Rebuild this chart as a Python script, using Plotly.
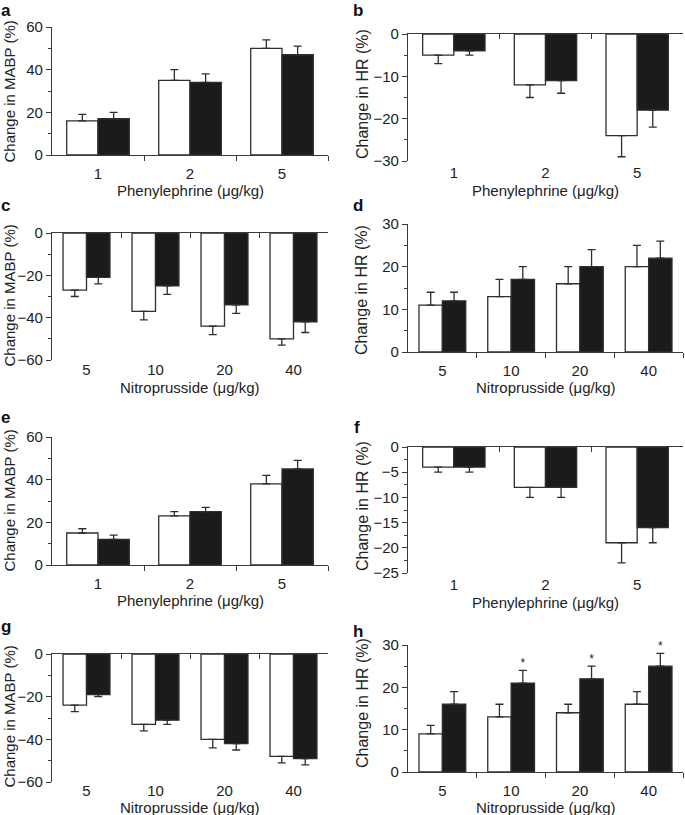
import plotly.graph_objects as go

W, H = 685, 815

# ---------------- data ----------------
phen_doses = ["1", "2", "5"]
nitro_doses = ["5", "10", "20", "40"]
phen_title = "Phenylephrine (μg/kg)"
nitro_title = "Nitroprusside (μg/kg)"
mabp_title = "Change in MABP (%)"
hr_title = "Change in HR (%)"

a_white = [16, 35, 50]; a_white_err = [3, 5, 4]
a_black = [17, 34, 47]; a_black_err = [3, 4, 4]
b_white = [-5, -12, -24]; b_white_err = [2, 3, 5]
b_black = [-4, -11, -18]; b_black_err = [1, 3, 4]
c_white = [-27, -37, -44, -50]; c_white_err = [3, 4, 4, 3]
c_black = [-21, -25, -34, -42]; c_black_err = [3, 4, 4, 5]
d_white = [11, 13, 16, 20]; d_white_err = [3, 4, 4, 5]
d_black = [12, 17, 20, 22]; d_black_err = [2, 3, 4, 4]
e_white = [15, 23, 38]; e_white_err = [2, 2, 4]
e_black = [12, 25, 45]; e_black_err = [2, 2, 4]
f_white = [-4, -8, -19]; f_white_err = [1, 2, 4]
f_black = [-4, -8, -16]; f_black_err = [1, 2, 3]
g_white = [-24, -33, -40, -48]; g_white_err = [3, 3, 4, 3]
g_black = [-19, -31, -42, -49]; g_black_err = [1, 2, 3, 3]
h_white = [9, 13, 14, 16]; h_white_err = [2, 3, 2, 3]
h_black = [16, 21, 22, 25]; h_black_err = [3, 3, 3, 3]
h_signif = ["", "*", "*", "*"]

# ---------------- style / layout ----------------
EDGE = "#2e2e2e"
AXC = "#3a3a3a"
FONT = "Liberation Sans, Arial, Helvetica, sans-serif"
BAR_W = 0.34

# lab: (ticklen of invisible major ticks, ticklabelstandoff) to place category labels
panels = [
    dict(letter="a", w=a_white, we=a_white_err, b=a_black, be=a_black_err, cats=phen_doses,
         xt=phen_title, yt=mabp_title, ytf=15, yr=[0, 60], dt=20, box=(52, 328, 27, 155),
         lab=(5, 0), xt_y=190.5, yt_pos=(8.5, 92), let_pos=(5.5, 10)),
    dict(letter="b", w=b_white, we=b_white_err, b=b_black, be=b_black_err, cats=phen_doses,
         xt=phen_title, yt=hr_title, ytf=16, yr=[-30, 0], dt=10, box=(408, 683, 34, 161),
         lab=(0, -2), xt_y=190.5, yt_pos=(362, 94), let_pos=(358, 10)),
    dict(letter="c", w=c_white, we=c_white_err, b=c_black, be=c_black_err, cats=nitro_doses,
         xt=nitro_title, yt=mabp_title, ytf=15, yr=[-60, 0], dt=20, box=(52, 328, 233, 360),
         lab=(0, -4), xt_y=387.5, yt_pos=(8.5, 296), let_pos=(5.5, 205.5)),
    dict(letter="d", w=d_white, we=d_white_err, b=d_black, be=d_black_err, cats=nitro_doses,
         xt=nitro_title, yt=hr_title, ytf=16, yr=[0, 30], dt=10, box=(408, 683, 224, 352),
         lab=(5, 0), xt_y=387.5, yt_pos=(362, 290), let_pos=(358, 205)),
    dict(letter="e", w=e_white, we=e_white_err, b=e_black, be=e_black_err, cats=phen_doses,
         xt=phen_title, yt=mabp_title, ytf=15, yr=[0, 60], dt=20, box=(52, 328, 437, 565),
         lab=(5, 0), xt_y=600.5, yt_pos=(8.5, 501), let_pos=(5.5, 417.5)),
    dict(letter="f", w=f_white, we=f_white_err, b=f_black, be=f_black_err, cats=phen_doses,
         xt=phen_title, yt=hr_title, ytf=16, yr=[-25, 0], dt=5, box=(408, 683, 447, 573),
         lab=(0, -2), xt_y=602.5, yt_pos=(362, 506), let_pos=(357, 427)),
    dict(letter="g", w=g_white, we=g_white_err, b=g_black, be=g_black_err, cats=nitro_doses,
         xt=nitro_title, yt=mabp_title, ytf=15, yr=[-60, 0], dt=20, box=(52, 328, 654, 782),
         lab=(0, -5), xt_y=807.5, yt_pos=(8.5, 717), let_pos=(5.5, 626)),
    dict(letter="h", w=h_white, we=h_white_err, b=h_black, be=h_black_err, cats=nitro_doses,
         xt=nitro_title, yt=hr_title, ytf=16, yr=[0, 30], dt=10, box=(408, 683, 645, 772),
         lab=(5, 0), xt_y=807.5, yt_pos=(362, 703), let_pos=(358, 631)),
]

fig = go.Figure()
layout = {}
annotations = []


def err_dict(vals, errs):
    up = [e if v >= 0 else 0 for v, e in zip(vals, errs)]
    dn = [e if v < 0 else 0 for v, e in zip(vals, errs)]
    return dict(type="data", symmetric=False, array=up, arrayminus=dn,
                color=EDGE, thickness=1.3, width=4)


for i, p in enumerate(panels, start=1):
    n = len(p["cats"])
    xs = list(range(n))
    xa, ya = f"x{i}", f"y{i}"
    xkey = "xaxis" if i == 1 else f"xaxis{i}"
    ykey = "yaxis" if i == 1 else f"yaxis{i}"
    x0, x1, y0, y1 = p["box"]
    negative = p["yr"][1] <= 0

    fig.add_trace(go.Bar(x=xs, y=p["w"], xaxis=xa, yaxis=ya, showlegend=False,
                         marker=dict(color="white", line=dict(color=EDGE, width=1.3)),
                         error_y=err_dict(p["w"], p["we"])))
    fig.add_trace(go.Bar(x=xs, y=p["b"], xaxis=xa, yaxis=ya, showlegend=False,
                         marker=dict(color="#1b1b1b", line=dict(color=EDGE, width=1.3)),
                         error_y=err_dict(p["b"], p["be"])))

    boundaries = [k + 0.5 for k in xs]
    xrange_ = [-0.5, n - 0.5]
    tl, tso = p["lab"]
    base_x = dict(domain=[x0 / W, x1 / W], anchor=ya, range=xrange_,
                  tickmode="array", tickvals=xs, ticktext=p["cats"],
                  showgrid=False, zeroline=False, automargin=False,
                  ticks="outside", ticklen=tl, tickcolor="rgba(0,0,0,0)",
                  ticklabelstandoff=tso,
                  tickfont=dict(size=15, color="#222", family=FONT), fixedrange=True)
    if not negative:
        base_x.update(showline=True, linecolor=AXC, linewidth=1.3,
                      minor=dict(tickmode="array", tickvals=boundaries, ticks="outside",
                                 ticklen=5, tickcolor=AXC, tickwidth=1.3))
    else:
        base_x.update(showline=False)
        okey = f"xaxis{i + 8}"
        layout[okey] = dict(overlaying=xa, anchor=ya, side="top", range=xrange_,
                            showline=True, linecolor=AXC, linewidth=1.3,
                            tickmode="array", tickvals=boundaries, ticks="inside",
                            ticklen=5, tickcolor=AXC, tickwidth=1.3, automargin=False,
                            showticklabels=False, showgrid=False, zeroline=False)
        fig.add_trace(go.Scatter(x=xs, y=[None] * n, xaxis=f"x{i + 8}", yaxis=ya,
                                 showlegend=False, hoverinfo="skip", mode="markers"))
    layout[xkey] = base_x

    layout[ykey] = dict(domain=[1 - y1 / H, 1 - y0 / H], anchor=xa, range=p["yr"],
                        tickmode="linear", dtick=p["dt"], tick0=0, automargin=False,
                        showline=True, linecolor=AXC, linewidth=1.3,
                        ticks="outside", ticklen=5, tickwidth=1.3, tickcolor=AXC,
                        minor=dict(ticks="outside", ticklen=3, dtick=p["dt"] / 2, tick0=0,
                                   tickcolor=AXC, tickwidth=1.3),
                        showgrid=False, zeroline=False, fixedrange=True,
                        tickfont=dict(size=15, color="#222", family=FONT))

    annotations.append(dict(text=p["xt"], x=(x0 + x1) / 2 / W, y=1 - p["xt_y"] / H,
                            xref="paper", yref="paper", showarrow=False, borderpad=0,
                            xanchor="center", yanchor="middle",
                            font=dict(size=15, color="#222", family=FONT)))
    annotations.append(dict(text=p["yt"], x=p["yt_pos"][0] / W, y=1 - p["yt_pos"][1] / H,
                            xref="paper", yref="paper", showarrow=False, textangle=-90,
                            xanchor="center", yanchor="middle", borderpad=0,
                            font=dict(size=p["ytf"], color="#222", family=FONT)))
    annotations.append(dict(text=f"<b>{p['letter']}</b>", x=p["let_pos"][0] / W,
                            y=1 - p["let_pos"][1] / H, xref="paper", yref="paper",
                            showarrow=False, xanchor="center", yanchor="middle", borderpad=0,
                            font=dict(size=17, color="#111", family=FONT)))

    if p["letter"] == "h":
        tops = [v + e for v, e in zip(p["b"], p["be"])]
        fig.add_trace(go.Scatter(x=[k + BAR_W / 2 for k in xs], y=tops, xaxis=xa, yaxis=ya,
                                 mode="text", text=h_signif, textposition="top center",
                                 textfont=dict(size=12, color="#222", family=FONT),
                                 showlegend=False, hoverinfo="skip", cliponaxis=False))

fig.update_layout(
    width=W, height=H, margin=dict(l=0, r=0, t=0, b=0, pad=0, autoexpand=False),
    paper_bgcolor="white", plot_bgcolor="white",
    barmode="group", bargap=0.32, bargroupgap=0,
    font=dict(family=FONT, size=15, color="#222"),
    annotations=annotations, showlegend=False,
    **layout,
)

fig.write_html("out.html", config={"displayModeBar": False},
               post_script="document.body.style.margin='0';document.body.style.padding='0';")
